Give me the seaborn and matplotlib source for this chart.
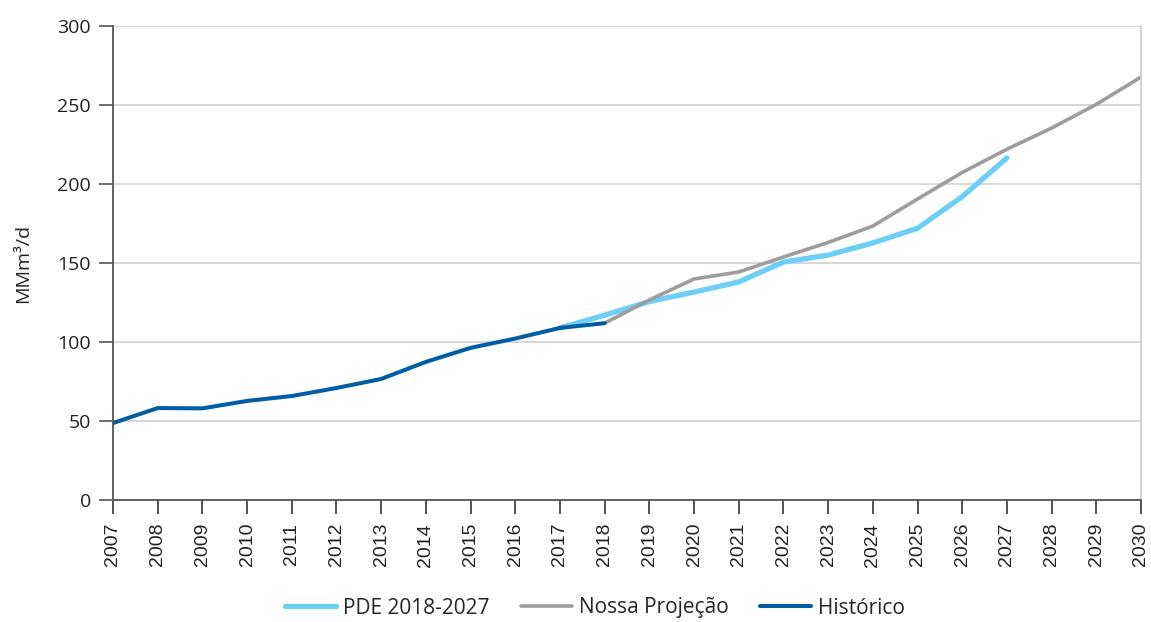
import matplotlib
matplotlib.use("Agg")
import matplotlib.pyplot as plt
import seaborn as sns
import pandas as pd

# Gas demand series (MMm³/d)
years_historico = list(range(2007, 2019))
historico = [48.7, 58.2, 58.0, 62.7, 65.8, 70.9, 76.6, 87.4, 96.3, 102.2, 108.9, 111.9]

years_pde = list(range(2017, 2028))
pde = [108.9, 117.0, 125.6, 131.6, 138.0, 150.6, 155.0, 162.7, 172.0, 192.0, 216.5]

years_nossa = list(range(2018, 2031))
nossa = [111.9, 126.6, 139.9, 144.3, 153.8, 163.0, 173.4, 190.5, 207.3, 222.0, 235.4, 250.4, 267.7]

series_names = ["PDE 2018-2027", "Nossa Projeção", "Histórico"]
series_colors = ["#6DCFF6", "#9D9D9F", "#005DA6"]
series_widths = [3.8, 2.6, 2.9]
y_ticks = [0, 50, 100, 150, 200, 250, 300]
x_ticks = list(range(2007, 2031))
y_label = "MMm³/d"

df = pd.concat([
    pd.DataFrame({"ano": years_pde, "valor": pde, "serie": series_names[0]}),
    pd.DataFrame({"ano": years_nossa, "valor": nossa, "serie": series_names[1]}),
    pd.DataFrame({"ano": years_historico, "valor": historico, "serie": series_names[2]}),
])

sns.set_style("white")
plt.rcParams["font.family"] = ["Open Sans", "DejaVu Sans"]

fig = plt.figure(figsize=(11.51, 6.22), dpi=100)
ax = fig.add_axes([113 / 1151, 1 - 500 / 622, (1141 - 113) / 1151, (500 - 26) / 622])

for name, color, lw in zip(series_names, series_colors, series_widths):
    sns.lineplot(data=df[df["serie"] == name], x="ano", y="valor", ax=ax,
                 color=color, linewidth=lw, label=name, solid_capstyle="round",
                 solid_joinstyle="round", legend=False)

ax.set_xlim(2007, 2030)
ax.set_ylim(0, 300)
ax.set_yticks(y_ticks)
ax.set_xticks(x_ticks)
ax.set_xticklabels([str(y) for y in x_ticks], rotation=90,
                   fontfamily="Liberation Sans", fontsize=14, color="#222222")
ax.tick_params(axis="y", labelsize=14, labelcolor="#222222", length=10,
               width=1.2, color="#555555", left=True, pad=6)
ax.tick_params(axis="x", length=10, width=1.2, color="#333333", bottom=True, pad=6.5)

ax.yaxis.grid(True, color="#D4D4D4", linewidth=1.3)
ax.xaxis.grid(False)
ax.set_axisbelow(True)

for side in ["left", "bottom"]:
    ax.spines[side].set_color("#555555")
    ax.spines[side].set_linewidth(1.3)
ax.spines["right"].set_color("#D0D0D0")
ax.spines["right"].set_linewidth(1.3)
ax.spines["top"].set_visible(False)

ax.set_xlabel("")
ax.set_ylabel(y_label, fontsize=14, color="#222222", labelpad=18)

handles, labels = ax.get_legend_handles_labels()
fig.legend(handles, labels, loc="center", bbox_to_anchor=(595 / 1151, 1 - 608 / 622),
           ncol=3, frameon=False, fontsize=15, handlelength=2.45,
           columnspacing=1.5, handletextpad=0.35)

fig.savefig("out.png", dpi=100)
